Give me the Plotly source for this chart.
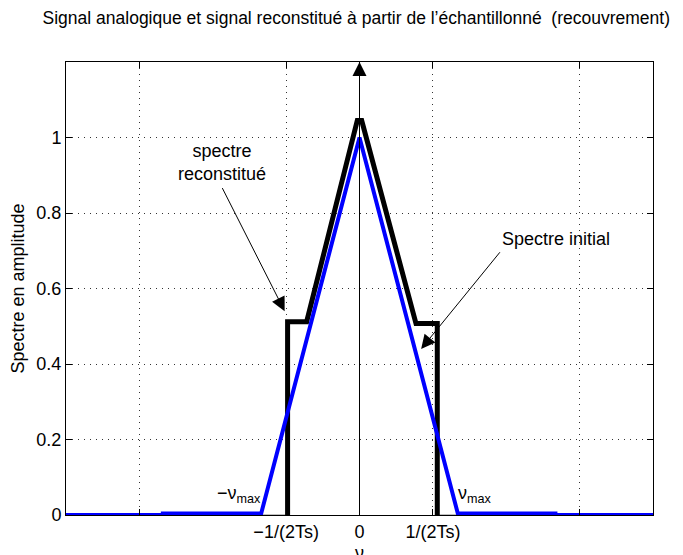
import plotly.graph_objects as go

# Data (x in units of 1/(2Ts))
blue_x = [-4.2, -2.68, -2.68, -1.34, 0.0, 1.34, 2.67, 2.67, 4.2]
blue_y = [0.0, 0.0, 0.004, 0.004, 1.0, 0.004, 0.004, 0.0, 0.0]

black_x = [-4.2, -0.98, -0.98, -0.72, -0.03, 0.03, 0.77, 1.06, 1.06, 4.2]
black_y = [-0.006, -0.006, 0.512, 0.512, 1.045, 1.045, 0.507, 0.507, -0.006, -0.006]

xtick_vals = [-3, -1, 0, 1, 3]
xtick_text = ["", "\u22121/(2Ts)", "0", "1/(2Ts)", ""]
ytick_vals = [0, 0.2, 0.4, 0.6, 0.8, 1.0]
ytick_text = ["0", "0.2", "0.4", "0.6", "0.8", "1"]

FONT = "Liberation Sans, Arial, Helvetica, sans-serif"
FS = 18

# the page body has an 8px margin: size/margins compensate so the axes land where the reference has them
W, H = 675, 547

fig = go.Figure()
fig.add_trace(go.Scatter(x=black_x, y=black_y, mode="lines",
                         line=dict(color="black", width=5), showlegend=False))
fig.add_trace(go.Scatter(x=blue_x, y=blue_y, mode="lines",
                         line=dict(color="#0000ff", width=4), showlegend=False))

arrow = dict(showarrow=True, arrowhead=2, arrowsize=2.8, arrowwidth=1, arrowcolor="black", text="",
             xref="x", yref="y", axref="x", ayref="y")
annots = [
    # vertical arrow at nu = 0
    dict(x=0, y=1.2, ax=0, ay=0, **arrow),
    # spectre reconstitue
    dict(x=-1.02, y=0.54, ax=-1.88, ay=0.87, **arrow),
    dict(x=-1.88, y=0.935, xref="x", yref="y", showarrow=False,
         text="spectre<br>reconstitué", font=dict(size=FS, color="black", family=FONT),
         yanchor="middle", xanchor="center"),
    # spectre initial
    dict(x=0.84, y=0.44, ax=1.93, ay=0.70, **arrow),
    dict(x=1.92, y=0.73, xref="x", yref="y", showarrow=False,
         text="Spectre initial", font=dict(size=FS, color="black", family=FONT),
         xanchor="left", yanchor="middle"),
    # nu max labels
    dict(x=-1.32, y=0.055, xref="x", yref="y", showarrow=False,
         text="\u2212\u03bd<sub>max</sub>", font=dict(size=FS, color="black", family=FONT),
         xanchor="right", yanchor="middle"),
    dict(x=1.32, y=0.055, xref="x", yref="y", showarrow=False,
         text="\u03bd<sub>max</sub>", font=dict(size=FS, color="black", family=FONT),
         xanchor="left", yanchor="middle"),
    # x-axis label
    dict(x=0, y=-0.06, xref="x", yref="paper", showarrow=False, borderpad=0,
         text="\u03bd", font=dict(size=FS, color="black", family=FONT),
         xanchor="center", yanchor="top"),
]

fig.update_layout(
    width=W, height=H,
    margin=dict(l=58, r=30, t=54, b=40, autoexpand=False),
    paper_bgcolor="white", plot_bgcolor="white",
    font=dict(family=FONT, size=FS, color="black"),
    title=dict(text="Signal analogique et signal reconstitué à partir de l\u2019échantillonné  (recouvrement)",
               x=0.516, xref="container", xanchor="center", y=0.982, yref="container", yanchor="middle",
               font=dict(size=17.5, family=FONT, color="black")),
    annotations=annots,
    xaxis=dict(range=[-4.0, 4.0], tickvals=xtick_vals, ticktext=xtick_text,
               showline=True, linecolor="black", linewidth=1, mirror="ticks",
               ticks="inside", ticklen=6, tickcolor="black", tickfont=dict(size=FS),
               showgrid=True, gridcolor="#333", griddash="1px,5px", gridwidth=1,
               zeroline=False, automargin=False),
    yaxis=dict(range=[0, 1.2], tickvals=ytick_vals, ticktext=ytick_text,
               showline=True, linecolor="black", linewidth=1, mirror="ticks",
               ticks="inside", ticklen=6, tickcolor="black", tickfont=dict(size=FS),
               showgrid=True, gridcolor="#333", griddash="1px,5px", gridwidth=1,
               zeroline=False, automargin=False,
               title=dict(text="Spectre en amplitude", standoff=8, font=dict(size=FS))),
)

fig.write_html("out.html")
